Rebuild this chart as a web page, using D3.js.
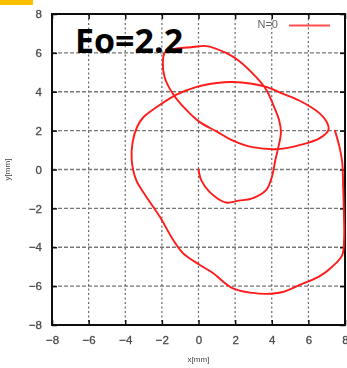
<!DOCTYPE html>
<html>
<head>
<meta charset="utf-8">
<script src="https://cdn.jsdelivr.net/npm/d3@7"></script>
<style>
  html, body { margin: 0; padding: 0; background: #fff; }
  svg { display: block; }
</style>
</head>
<body>
<svg id="chart" width="347" height="368"></svg>
<script>
// Bubble centre trajectory (mm), in time order, starting at the origin
const trajX = [0, 0.15, 0.6, 1.5, 2.2, 2.9, 3.7, 4.0, 4.2, 4.35, 4.5, 4.4, 4.2, 3.7, 3.15, 2.2, 1.5, 0.45, -0.3, -1.6, -1.85, -1.95, -1.85, -1.4, -0.65, 0.05, 1.0, 1.85, 2.95, 4.4, 5.5, 6.6, 7.1, 7.0, 6.6, 5.5, 4.6, 3.7, 1.85, 1.0, -0.1, -1.2, -2.3, -3.0, -3.35, -3.6, -3.65, -3.4, -2.85, -2.1, -1.4, -0.85, 0.05, 0.75, 1.85, 2.95, 3.7, 4.6, 5.5, 6.6, 7.3, 7.85, 7.95, 7.95, 7.9, 7.85, 7.7, 7.45];
const trajY = [0, -0.55, -1.15, -1.7, -1.6, -1.5, -1.05, -0.4, 0.5, 1.1, 1.9, 2.55, 3.05, 4.1, 4.75, 5.6, 6.0, 6.35, 6.3, 6.15, 6.0, 5.5, 4.75, 3.9, 3.05, 2.45, 1.95, 1.5, 1.15, 1.05, 1.25, 1.6, 2.05, 2.45, 2.9, 3.55, 3.9, 4.25, 4.5, 4.45, 4.25, 3.85, 3.2, 2.7, 2.2, 1.4, 0.5, -0.55, -1.4, -2.45, -3.6, -4.3, -4.9, -5.3, -6.1, -6.35, -6.4, -6.3, -5.95, -5.5, -5.0, -4.4, -3.6, -2.6, -0.9, 0.35, 1.15, 2.0];

const xTicks = [-8, -6, -4, -2, 0, 2, 4, 6, 8];
const yTicks = [-8, -6, -4, -2, 0, 2, 4, 6, 8];
const seriesName = "N=0";
const title = "Eo=2.2";

const svg = d3.select("#chart");
const pLeft = 52, pRight = 345, pTop = 14, pBottom = 325;

const x = d3.scaleLinear().domain([-8, 8]).range([pLeft, pRight]);
const y = d3.scaleLinear().domain([-8, 8]).range([pBottom, pTop]);

// soft rendering of the plot area
const defs = svg.append("defs");
defs.append("filter").attr("id", "soft")
  .append("feGaussianBlur").attr("stdDeviation", 0.65);

const plot = svg.append("g").attr("filter", "url(#soft)");

// grid
const grid = plot.append("g");
grid.selectAll("line.gx").data(xTicks.slice(1, -1)).join("line")
  .attr("x1", d => x(d)).attr("x2", d => x(d))
  .attr("y1", pTop).attr("y2", pBottom)
  .attr("stroke", "#666").attr("stroke-width", 1.2)
  .attr("stroke-dasharray", "2,2.5");
grid.selectAll("line.gy").data(yTicks.slice(1, -1)).join("line")
  .attr("y1", d => y(d)).attr("y2", d => y(d))
  .attr("x1", pLeft).attr("x2", pRight)
  .attr("stroke", "#777").attr("stroke-width", 1.4)
  .attr("stroke-dasharray", "4,2");

// axes with inward ticks on all four sides
const tickFont = "Liberation Sans, Arial, sans-serif";
const axB = plot.append("g").attr("transform", `translate(0,${pBottom})`)
  .call(d3.axisBottom(x).tickValues(xTicks).tickSizeInner(-5).tickSizeOuter(0).tickPadding(11));
const axL = plot.append("g").attr("transform", `translate(${pLeft},0)`)
  .call(d3.axisLeft(y).tickValues(yTicks).tickSizeInner(-5).tickSizeOuter(0).tickPadding(10));
const axT = plot.append("g").attr("transform", `translate(0,${pTop})`)
  .call(d3.axisTop(x).tickValues(xTicks).tickSizeInner(-5).tickSizeOuter(0).tickFormat(""));
const axR = plot.append("g").attr("transform", `translate(${pRight},0)`)
  .call(d3.axisRight(y).tickValues(yTicks).tickSizeInner(-5).tickSizeOuter(0).tickFormat(""));
[axB, axL, axT, axR].forEach(a => {
  a.select(".domain").remove();
  a.selectAll(".tick line").attr("stroke", "#111").attr("stroke-width", 1.5);
  a.selectAll("text").attr("fill", "#4a4a4a").attr("font-size", 11.5)
    .attr("font-family", tickFont).attr("font-weight", "normal")
    .attr("stroke", "#4a4a4a").attr("stroke-width", 0.3);
});

// frame
plot.append("rect").attr("x", pLeft).attr("y", pTop)
  .attr("width", pRight - pLeft).attr("height", pBottom - pTop)
  .attr("fill", "none").attr("stroke", "#111").attr("stroke-width", 2);

// axis titles
plot.append("text").attr("x", x(0)).attr("y", 362)
  .attr("text-anchor", "middle").attr("font-size", 8)
  .attr("font-family", tickFont).attr("fill", "#444").text("x[mm]");
plot.append("text")
  .attr("transform", `translate(10,${y(0)}) rotate(-90)`)
  .attr("text-anchor", "middle").attr("font-size", 8)
  .attr("font-family", tickFont).attr("fill", "#444").text("y[mm]");

// legend
plot.append("text").attr("x", 278).attr("y", 28)
  .attr("text-anchor", "end").attr("font-size", 11)
  .attr("font-family", tickFont).attr("fill", "#666").text(seriesName);
plot.append("line").attr("x1", 289).attr("x2", 330).attr("y1", 25.5).attr("y2", 25.5)
  .attr("stroke", "#ff5050").attr("stroke-width", 2.2);

// trajectory
const pts = trajX.map((d, i) => [d, trajY[i]]);
plot.append("path").datum(pts)
  .attr("fill", "none").attr("stroke", "#ff1a1a").attr("stroke-width", 1.9)
  .attr("stroke-linejoin", "round").attr("stroke-linecap", "round")
  .attr("d", d3.line().x(d => x(d[0])).y(d => y(d[1])).curve(d3.curveCatmullRom.alpha(0.5)));

// annotation and marker
svg.append("rect").attr("x", 0).attr("y", 0).attr("width", 33).attr("height", 5)
  .attr("fill", "#ffc000");
svg.append("text").attr("x", 75).attr("y", 53)
  .attr("font-size", 34).attr("font-weight", "bold")
  .attr("font-family", "Open Sans, sans-serif").attr("fill", "#000").text(title);
</script>
</body>
</html>
